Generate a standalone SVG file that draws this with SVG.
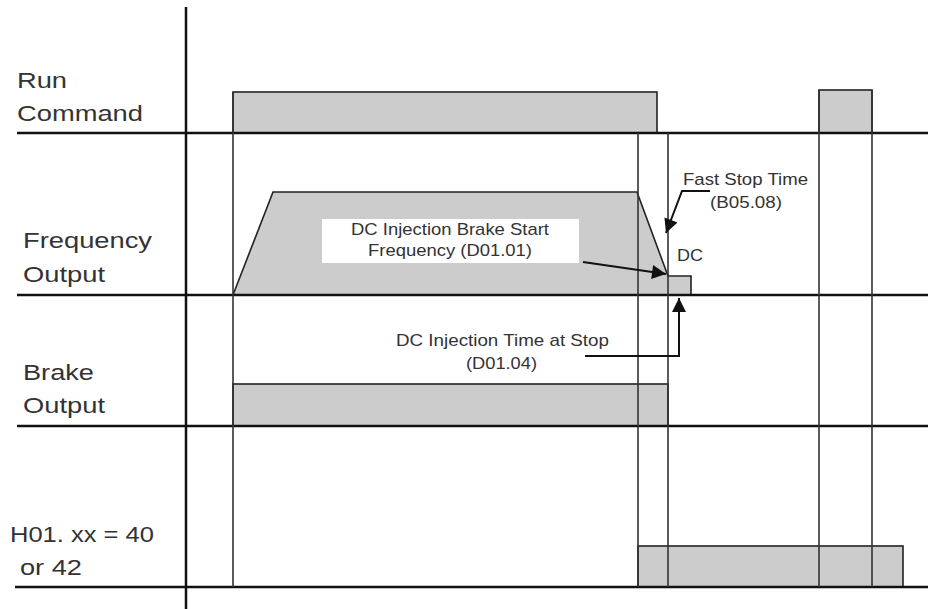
<svg xmlns="http://www.w3.org/2000/svg" width="928" height="609" viewBox="0 0 928 609">
<defs>
<marker id="ah" viewBox="0 0 10 10" refX="10" refY="5" markerWidth="17" markerHeight="14" markerUnits="userSpaceOnUse" orient="auto">
<path d="M0,0 L10,5 L0,10 Z" fill="#111"/>
</marker>
</defs>
<style>
.base{stroke:#111;stroke-width:2.5;fill:none}
.vl{stroke:#333;stroke-width:1.6;fill:none}
.sig{fill:#cccccc;stroke:#222;stroke-width:1.6}
.lbl{font-family:"Liberation Sans",Arial,sans-serif;font-size:22px;fill:#333}
.sm{font-family:"Liberation Sans",Arial,sans-serif;font-size:17px;fill:#333}
.conn{stroke:#111;stroke-width:2;fill:none}
</style>
<rect width="928" height="609" fill="#fff"/>

<g id="signals">
<g id="run-command">
<rect class="sig" x="233" y="92" width="424" height="41"/>
<rect class="sig" x="819" y="90" width="53" height="43"/>
</g>
<g id="frequency-output">
<polygon class="sig" points="233,295 273,192 637,192 668,276 691,276 691,295"/>
</g>
<g id="brake-output">
<rect class="sig" x="233" y="384" width="435" height="42"/>
</g>
<g id="h01-output">
<rect class="sig" x="638" y="546" width="265" height="41"/>
</g>
</g>

<g id="axes">
<line class="base" x1="186" y1="7" x2="186" y2="609"/>
<line class="base" x1="17" y1="133" x2="928" y2="133"/>
<line class="base" x1="17" y1="295" x2="928" y2="295"/>
<line class="base" x1="17" y1="426" x2="928" y2="426"/>
<line class="base" x1="15" y1="587" x2="928" y2="587"/>
</g>

<g id="time-markers">
<line class="vl" x1="233" y1="92" x2="233" y2="587"/>
<line class="vl" x1="638" y1="133" x2="638" y2="587"/>
<line class="vl" x1="668" y1="133" x2="668" y2="587"/>
<line class="vl" x1="819" y1="90" x2="819" y2="587"/>
<line class="vl" x1="872" y1="90" x2="872" y2="587"/>
</g>

<g id="row-labels">
<text class="lbl" x="17" y="88" textLength="50" lengthAdjust="spacingAndGlyphs">Run</text>
<text class="lbl" x="17" y="121" textLength="126" lengthAdjust="spacingAndGlyphs">Command</text>
<text class="lbl" x="23" y="248" textLength="129" lengthAdjust="spacingAndGlyphs">Frequency</text>
<text class="lbl" x="23" y="282" textLength="82" lengthAdjust="spacingAndGlyphs">Output</text>
<text class="lbl" x="23" y="380" textLength="71" lengthAdjust="spacingAndGlyphs">Brake</text>
<text class="lbl" x="23" y="413" textLength="82" lengthAdjust="spacingAndGlyphs">Output</text>
<text class="lbl" x="10" y="542" textLength="144" lengthAdjust="spacingAndGlyphs">H01. xx = 40</text>
<text class="lbl" x="20" y="575" textLength="62" lengthAdjust="spacingAndGlyphs">or 42</text>
</g>

<g id="dc-start-freq-label">
<rect x="322" y="219" width="257" height="44" fill="#fff"/>
<text class="sm" x="351" y="235" textLength="198" lengthAdjust="spacingAndGlyphs">DC Injection Brake Start</text>
<text class="sm" x="368" y="256" textLength="164" lengthAdjust="spacingAndGlyphs">Frequency (D01.01)</text>
</g>
<g id="fast-stop-label">
<text class="sm" x="683" y="185" textLength="125" lengthAdjust="spacingAndGlyphs">Fast Stop Time</text>
<text class="sm" x="710" y="208" textLength="72" lengthAdjust="spacingAndGlyphs">(B05.08)</text>
</g>
<g id="dc-label">
<text class="sm" x="677" y="261" textLength="26" lengthAdjust="spacingAndGlyphs">DC</text>
</g>
<g id="dc-time-label">
<text class="sm" x="396" y="346" textLength="213" lengthAdjust="spacingAndGlyphs">DC Injection Time at Stop</text>
<text class="sm" x="466" y="369" textLength="71" lengthAdjust="spacingAndGlyphs">(D01.04)</text>
</g>

<g id="connectors">
<polyline class="conn" points="710,191 682,191 666,233" marker-end="url(#ah)"/>
<line class="conn" x1="583" y1="262" x2="666" y2="274" marker-end="url(#ah)"/>
<polyline class="conn" points="585,356 679,356 679,298" marker-end="url(#ah)"/>
</g>
</svg>
